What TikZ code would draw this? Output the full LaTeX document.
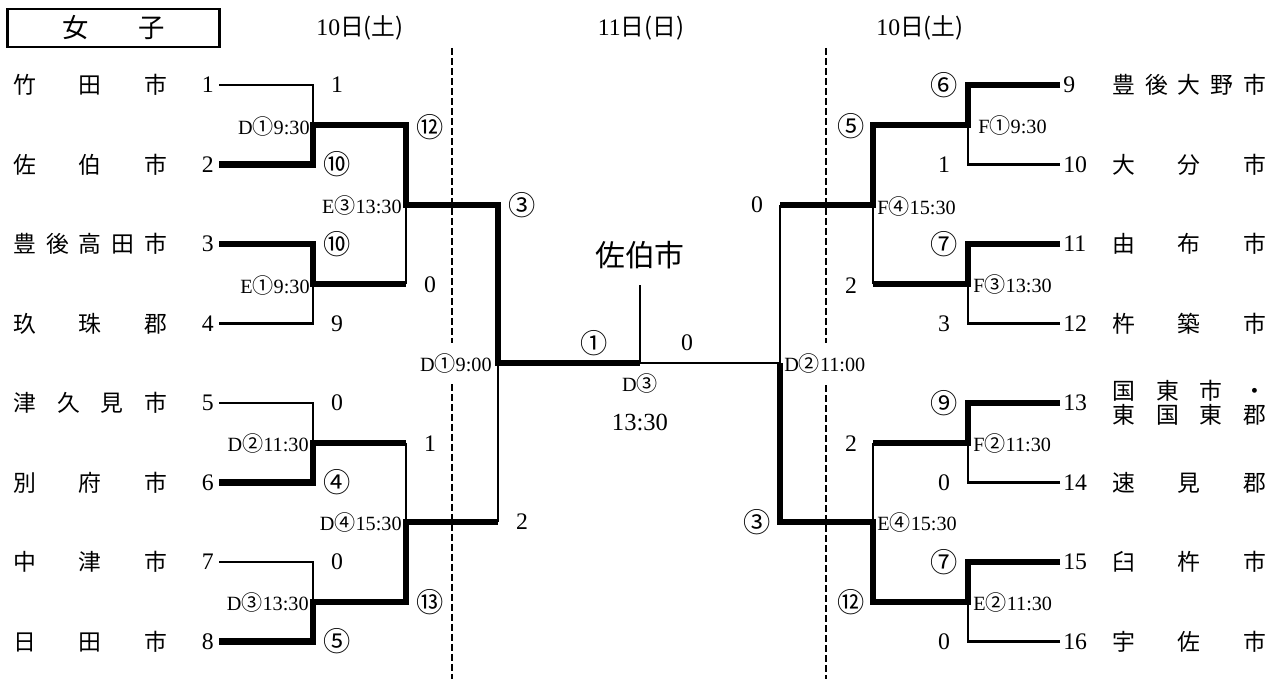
\documentclass[tikz,border=0pt]{standalone}
\usepackage{fontspec}
\setmainfont{Liberation Serif}
\newfontfamily\jp{Noto Sans CJK JP}
\usetikzlibrary{calc}
\tikzset{
  sen/.style={line width=1.4pt},
  futo/.style={line width=3.8pt},
  tensen/.style={line width=1.6pt, dash pattern=on 0.14cm off 0.06cm},
  chimei/.style={inner sep=0pt, font=\jp\fontsize{13}{13.6}\selectfont, align=left},
  bangoL/.style={anchor=east, inner ysep=0pt, inner xsep=0.1cm, font=\fontsize{13.5}{13.5}\selectfont},
  bangoR/.style={anchor=west, inner ysep=0pt, inner xsep=0.06cm, font=\fontsize{13.5}{13.5}\selectfont},
  ten/.style={inner sep=0pt, font=\fontsize{13.5}{13.5}\selectfont},
  shiai/.style={inner sep=0pt, font=\fontsize{11.5}{11.5}\selectfont},
  hizuke/.style={inner sep=0pt, font=\fontsize{13.5}{13.5}\selectfont},
}
\newcommand\mr[1]{{\jp\fontsize{12}{12}\selectfont #1}}
\newcommand\maru[1]{{\jp\fontsize{15.5}{15.5}\selectfont #1}}
\newcommand\haba[1]{\makebox[3.08cm]{#1}}

\begin{document}
\begin{tikzpicture}[x=0.02cm, y=-0.02cm]
\useasboundingbox (0,0) rectangle (1270,679);

% titulo
\node[draw, line width=1.7pt, minimum width=4.26cm, minimum height=0.76cm, inner sep=0pt,
  font=\jp\fontsize{15}{15}\selectfont] (joshi) at (113.5,28) {女\hspace{1.9em}子};
\node[hizuke] (dia1) at (360,28) {10{\jp 日(土)}};
\node[hizuke] (dia2) at (641,28) {11{\jp 日(日)}};
\node[hizuke] (dia3) at (920,28) {10{\jp 日(土)}};

% linhas tracejadas
\draw[tensen] (452,48) -- (452,343);
\draw[tensen] (452,384) -- (452,679);
\draw[tensen] (826,48) -- (826,343);
\draw[tensen] (826,385) -- (826,679);

% lado esquerdo
\node[chimei, anchor=west] (n1) at (13,85) {\haba{竹\hfill 田\hfill 市}};
\node[chimei, anchor=west] (n2) at (13,164.5) {\haba{佐\hfill 伯\hfill 市}};
\node[chimei, anchor=west] (n3) at (13,244) {\haba{豊\hfill 後\hfill 高\hfill 田\hfill 市}};
\node[chimei, anchor=west] (n4) at (13,323.5) {\haba{玖\hfill 珠\hfill 郡}};
\node[chimei, anchor=west] (n5) at (13,403) {\haba{津\hfill 久\hfill 見\hfill 市}};
\node[chimei, anchor=west] (n6) at (13,482.5) {\haba{別\hfill 府\hfill 市}};
\node[chimei, anchor=west] (n7) at (13,562) {\haba{中\hfill 津\hfill 市}};
\node[chimei, anchor=west] (n8) at (13,641.5) {\haba{日\hfill 田\hfill 市}};

\node[bangoL] (t1) at (219,85) {1};
\node[bangoL] (t2) at (219,164.5) {2};
\node[bangoL] (t3) at (219,244) {3};
\node[bangoL] (t4) at (219,323.5) {4};
\node[bangoL] (t5) at (219,403) {5};
\node[bangoL] (t6) at (219,482.5) {6};
\node[bangoL] (t7) at (219,562) {7};
\node[bangoL] (t8) at (219,641.5) {8};

\coordinate (a1) at (313,125);
\coordinate (a2) at (313,284);
\coordinate (a3) at (313,443);
\coordinate (a4) at (313,602);
\coordinate (b2) at (406,284);
\coordinate (b3) at (406,443);
\coordinate (c1) at (406,205);
\coordinate (c2) at (406,522);
\coordinate (d2) at (498,522);
\coordinate (e1) at (498,363);
\coordinate (fin) at (640,363);
\coordinate (ue) at (640,285);

\draw[sen] (t1.east) -| (a1);
\draw[futo] (t2.east) -| (a1) -| (c1) -| (e1) -- (fin);
\draw[futo] (t3.east) -| (a2) -- (b2);
\draw[sen] (b2) -- (c1);
\draw[sen] (t4.east) -| (a2);
\draw[sen] (t5.east) -| (a3);
\draw[futo] (t6.east) -| (a3) -- (b3);
\draw[sen] (b3) -- (c2);
\draw[sen] (t7.east) -| (a4);
\draw[futo] (t8.east) -| (a4) -| (c2) -- (d2);
\draw[sen] (d2) -- (e1);
\draw[sen] (fin) -- (ue);

\node[ten] (s1) at (337,85) {1};
\node[ten] (s2) at (337,164.5) {\maru{⑩}};
\node[ten] (s3) at (337,244) {\maru{⑩}};
\node[ten] (s4) at (337,323.5) {9};
\node[ten] (s5) at (337,403) {0};
\node[ten] (s6) at (337,482.5) {\maru{④}};
\node[ten] (s7) at (337,562) {0};
\node[ten] (s8) at (337,641.5) {\maru{⑤}};
\node[ten] (s9) at (430,127) {\maru{⑫}};
\node[ten] (s10) at (430,285) {0};
\node[ten] (s11) at (430,444) {1};
\node[ten] (s12) at (430,602) {\maru{⑬}};
\node[ten] (s13) at (522,205) {\maru{③}};
\node[ten] (s14) at (522,522) {2};

\node[shiai, anchor=east] (m1) at (310,126) {D\mr{①}9:30};
\node[shiai, anchor=east] (m2) at (310,285) {E\mr{①}9:30};
\node[shiai, anchor=east] (m3) at (309,443) {D\mr{②}11:30};
\node[shiai, anchor=east] (m4) at (309,602) {D\mr{③}13:30};
\node[shiai, anchor=east] (m5) at (402,205) {E\mr{③}13:30};
\node[shiai, anchor=east] (m6) at (402,522) {D\mr{④}15:30};
\node[shiai, anchor=east] (m7) at (492,363) {D\mr{①}9:00};

% final
\node[inner sep=0pt, font=\jp\fontsize{17}{17}\selectfont] (yusho) at (640,255) {佐伯市};
\node[ten] (f1) at (594,343) {\maru{①}};
\node[ten] (f2) at (687,343) {0};
\node[shiai] (kessho) at (640,383) {D\mr{③}};
\node[ten, font=\fontsize{14}{14}\selectfont] (jikan) at (640,422) {13:30};

% lado direito
\node[chimei, anchor=west] (n9) at (1112,85) {\haba{豊\hfill 後\hfill 大\hfill 野\hfill 市}};
\node[chimei, anchor=west] (n10) at (1112,164.5) {\haba{大\hfill 分\hfill 市}};
\node[chimei, anchor=west] (n11) at (1112,244) {\haba{由\hfill 布\hfill 市}};
\node[chimei, anchor=west] (n12) at (1112,323.5) {\haba{杵\hfill 築\hfill 市}};
\node[chimei, anchor=west] (n13) at (1112,403) {\haba{国\hfill 東\hfill 市\hfill ・}\\\haba{東\hfill 国\hfill 東\hfill 郡}};
\node[chimei, anchor=west] (n14) at (1112,482.5) {\haba{速\hfill 見\hfill 郡}};
\node[chimei, anchor=west] (n15) at (1112,562) {\haba{臼\hfill 杵\hfill 市}};
\node[chimei, anchor=west] (n16) at (1112,641.5) {\haba{宇\hfill 佐\hfill 市}};

\node[bangoR] (t9) at (1060,85) {9};
\node[bangoR] (t10) at (1060,164.5) {10};
\node[bangoR] (t11) at (1060,244) {11};
\node[bangoR] (t12) at (1060,323.5) {12};
\node[bangoR] (t13) at (1060,403) {13};
\node[bangoR] (t14) at (1060,482.5) {14};
\node[bangoR] (t15) at (1060,562) {15};
\node[bangoR] (t16) at (1060,641.5) {16};

\coordinate (ra1) at (968,125);
\coordinate (ra2) at (968,284);
\coordinate (ra3) at (968,443);
\coordinate (ra4) at (968,602);
\coordinate (rb2) at (873,284);
\coordinate (rb3) at (873,443);
\coordinate (rc1) at (873,205);
\coordinate (rc2) at (873,522);
\coordinate (rd1) at (780,205);
\coordinate (re2) at (780,363);

\draw[futo] (t9.west) -| (ra1) -| (rc1) -- (rd1);
\draw[sen] (rd1) -- (re2);
\draw[sen] (t10.west) -| (ra1);
\draw[futo] (t11.west) -| (ra2) -- (rb2);
\draw[sen] (rb2) -- (rc1);
\draw[sen] (t12.west) -| (ra2);
\draw[futo] (t13.west) -| (ra3) -- (rb3);
\draw[sen] (rb3) -- (rc2);
\draw[sen] (t14.west) -| (ra3);
\draw[futo] (t15.west) -| (ra4) -| (rc2) -| (re2);
\draw[sen] (t16.west) -| (ra4);
\draw[sen] (re2) -- (fin);

\node[ten] (r1) at (944,85) {\maru{⑥}};
\node[ten] (r2) at (944,164.5) {1};
\node[ten] (r3) at (944,244) {\maru{⑦}};
\node[ten] (r4) at (944,323.5) {3};
\node[ten] (r5) at (944,403) {\maru{⑨}};
\node[ten] (r6) at (944,482.5) {0};
\node[ten] (r7) at (944,562) {\maru{⑦}};
\node[ten] (r8) at (944,641.5) {0};
\node[ten] (r9) at (851,126) {\maru{⑤}};
\node[ten] (r10) at (851,286) {2};
\node[ten] (r11) at (851,444) {2};
\node[ten] (r12) at (851,602) {\maru{⑫}};
\node[ten] (r13) at (757,205) {0};
\node[ten] (r14) at (757,522) {\maru{③}};

\node[shiai, anchor=west] (rm1) at (978,125) {F\mr{①}9:30};
\node[shiai, anchor=west] (rm2) at (973,284) {F\mr{③}13:30};
\node[shiai, anchor=west] (rm3) at (973,443) {F\mr{②}11:30};
\node[shiai, anchor=west] (rm4) at (973,602) {E\mr{②}11:30};
\node[shiai, anchor=west] (rm5) at (877,206) {F\mr{④}15:30};
\node[shiai, anchor=west] (rm6) at (877,522) {E\mr{④}15:30};
\node[shiai, anchor=west] (rm7) at (784,363) {D\mr{②}11:00};

\end{tikzpicture}
\end{document}
